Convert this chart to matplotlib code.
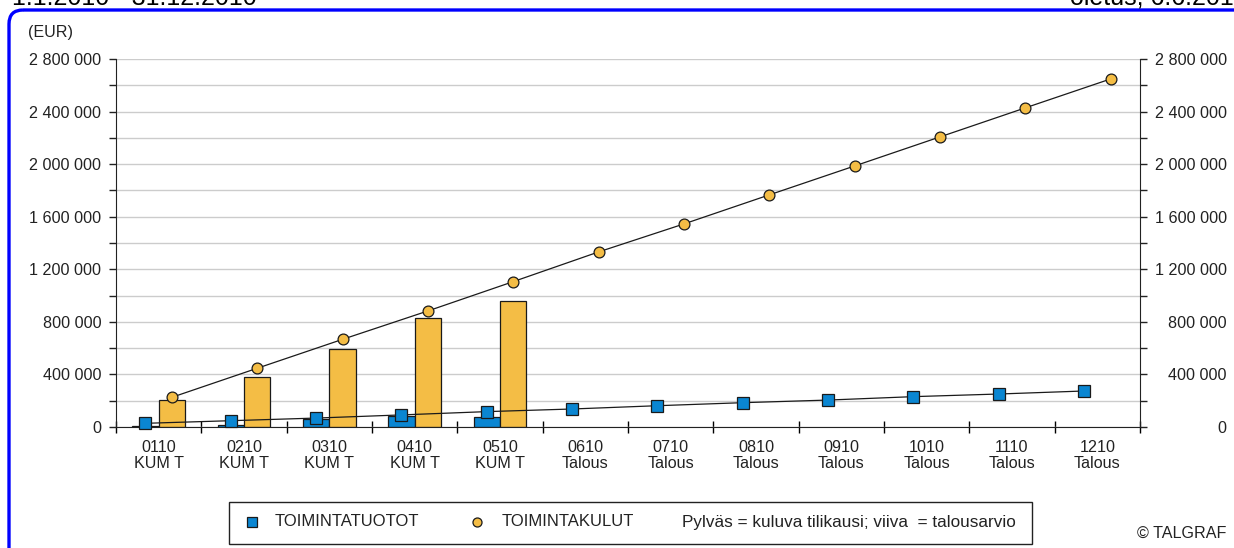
import numpy as np
import matplotlib
matplotlib.use("Agg")
import matplotlib.pyplot as plt
import matplotlib.transforms as mtransforms
from matplotlib.patches import FancyBboxPatch, Rectangle
from matplotlib.lines import Line2D
from matplotlib.ticker import FuncFormatter, MultipleLocator

plt.rcParams['font.family'] = ['Liberation Sans', 'DejaVu Sans']

# data
kuukaudet = ["0110", "0210", "0310", "0410", "0510", "0610",
             "0710", "0810", "0910", "1010", "1110", "1210"]
tyyppi = ["KUM T"] * 5 + ["Talous"] * 7
tuotot_toteuma = [6000, 13000, 61000, 84000, 78000]
kulut_toteuma = [205000, 383000, 594000, 832000, 959000]
tuotot_budjetti = [28000, 48000, 68000, 92000, 117000, 137000,
                   162000, 185000, 205000, 231000, 251000, 274000]
kulut_budjetti = [226000, 447000, 667000, 883000, 1106000, 1332000,
                  1545000, 1766000, 1986000, 2207000, 2428000, 2648000]

BLUE = "#0a86d2"
ORANGE = "#f4bd45"
EDGE = "#1a1a1a"
TXT = "#222222"

W, H = 1234, 548
fig = plt.figure(figsize=(W / 100, H / 100), dpi=100)
# pixel coords measured from the top-left corner
pix = mtransforms.Affine2D().scale(1 / W, -1 / H).translate(0, 1) + fig.transFigure

ax = fig.add_axes([116 / W, 1 - 427 / H, (1140 - 116) / W, (427 - 59) / H])

x = np.arange(len(kuukaudet))
bw = 0.31
off = 0.155

ax.bar(x[:len(tuotot_toteuma)] - off, tuotot_toteuma, bw, color=BLUE,
       edgecolor=EDGE, linewidth=0.9, zorder=2)
ax.bar(x[:len(kulut_toteuma)] + off, kulut_toteuma, bw, color=ORANGE,
       edgecolor=EDGE, linewidth=0.9, zorder=2)
ax.plot(x - off, tuotot_budjetti, color=EDGE, lw=0.9, zorder=3,
        marker='s', ms=8, mfc=BLUE, mec=EDGE, mew=0.9, clip_on=False)
ax.plot(x + off, kulut_budjetti, color=EDGE, lw=0.9, zorder=3,
        marker='o', ms=7.8, mfc=ORANGE, mec=EDGE, mew=0.9, clip_on=False)

ax.set_xlim(-0.5, len(kuukaudet) - 0.5)
ax.set_ylim(0, 2800000)

fmt = FuncFormatter(lambda v, p: f"{int(round(v)):,}".replace(",", " "))
ax.yaxis.set_major_locator(MultipleLocator(400000))
ax.yaxis.set_minor_locator(MultipleLocator(200000))
ax.yaxis.set_major_formatter(fmt)
ax.grid(axis='y', which='both', color='#cccccc', lw=1, zorder=0)
ax.set_axisbelow(True)
ax.tick_params(axis='y', which='both', direction='out', length=5,
               width=1, pad=5.5, labelsize=11.6, colors=TXT)

ax.set_xticks(np.arange(-0.5, len(kuukaudet), 1))
ax.set_xticklabels([])
ax.set_xticks(x, [f"{k}\n{t}" for k, t in zip(kuukaudet, tyyppi)], minor=True)
ax.tick_params(axis='x', which='major', direction='inout', length=8, width=1)
ax.tick_params(axis='x', which='minor', length=0, pad=9, labelsize=11.6,
               colors=TXT)
for lbl in ax.get_xticklabels(minor=True):
    lbl.set_linespacing(1.1)

for s in ['top', 'right']:
    ax.spines[s].set_visible(False)
ax.spines['left'].set_color(TXT)
ax.spines['bottom'].set_color(TXT)

ax2 = ax.twinx()
ax2.set_ylim(ax.get_ylim())
ax2.yaxis.set_major_locator(MultipleLocator(400000))
ax2.yaxis.set_minor_locator(MultipleLocator(200000))
ax2.yaxis.set_major_formatter(fmt)
ax2.tick_params(axis='y', which='both', direction='out', length=5,
                width=1, pad=57.5, labelsize=11.6, colors=TXT)
for lbl in ax2.get_yticklabels():
    lbl.set_horizontalalignment('right')
for s in ['top', 'left', 'bottom']:
    ax2.spines[s].set_visible(False)
ax2.spines['right'].set_color(TXT)

# frame and header texts (cut at the top edge, as in the reference)
fig.add_artist(FancyBboxPatch((9, 10), 1260, 560,
                              boxstyle="round,pad=0,rounding_size=14",
                              transform=pix, fill=False, edgecolor='#0000ff',
                              lw=2.4, clip_on=False))
fig.text(12, 5, "1.1.2010 - 31.12.2010", transform=pix, fontsize=18,
         va='baseline', ha='left')
fig.text(1070, 5, "oletus; 6.6.2010", transform=pix, fontsize=18,
         va='baseline', ha='left')
fig.text(28, 33, "(EUR)", transform=pix, fontsize=11.6, va='center',
         ha='left', color=TXT)

# legend box
fig.add_artist(Rectangle((229, 502), 803, 42, transform=pix, fill=False,
                         edgecolor=TXT, lw=1))
fig.add_artist(Line2D([252], [522], transform=pix, marker='s', ms=7.5,
                      mfc=BLUE, mec=EDGE, mew=0.9, ls='none'))
fig.add_artist(Line2D([477], [522], transform=pix, marker='o', ms=6.5,
                      mfc=ORANGE, mec=EDGE, mew=0.9, ls='none'))
fig.text(275, 522, "TOIMINTATUOTOT", transform=pix, fontsize=12,
         va='center', ha='left', color=TXT)
fig.text(502, 522, "TOIMINTAKULUT", transform=pix, fontsize=12,
         va='center', ha='left', color=TXT)
fig.text(682, 522, "Pylväs = kuluva tilikausi; viiva  = talousarvio",
         transform=pix, fontsize=12.3, va='center', ha='left', color=TXT)
fig.text(1226, 533, "© TALGRAF", transform=pix, fontsize=11.6, va='center',
         ha='right', color=TXT)

fig.savefig("out.png", dpi=100)
